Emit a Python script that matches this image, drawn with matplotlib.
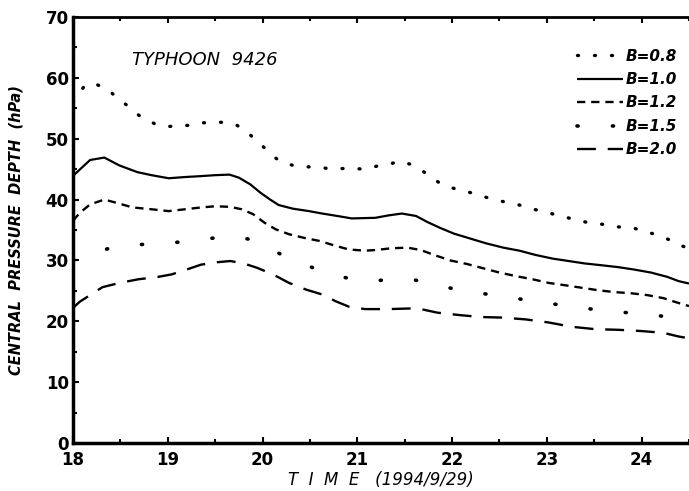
import numpy as np
import matplotlib
matplotlib.use("Agg")
import matplotlib.pyplot as plt
from matplotlib.ticker import MultipleLocator

# values (time in days of 1994/9, depth in hPa)
t_08 = [18.0, 18.06, 18.13, 18.25, 18.37, 18.47, 18.56, 18.65, 18.76, 18.87, 18.99, 19.11, 19.23,
        19.36, 19.48, 19.61, 19.73, 19.83, 19.92, 20.02, 20.11, 20.22, 20.33, 20.45, 20.58, 20.70,
        20.83, 20.95, 21.08, 21.21, 21.33, 21.45, 21.56, 21.67, 21.77, 21.87, 21.98, 22.10, 22.23,
        22.35, 22.47, 22.59, 22.71, 22.83, 22.95, 23.07, 23.20, 23.32, 23.44, 23.56, 23.68, 23.80,
        23.92, 24.04, 24.17, 24.29, 24.40, 24.5]
p_08 = [56.0, 57.3, 58.9, 58.9, 58.1, 56.6, 55.6, 54.3, 53.2, 52.4, 52.0, 52.1, 52.2,
        52.6, 52.7, 52.7, 52.2, 51.2, 49.9, 48.5, 47.1, 46.0, 45.6, 45.4, 45.3, 45.1,
        45.1, 45.1, 45.0, 45.5, 45.8, 46.3, 45.8, 44.9, 43.8, 42.7, 42.0, 41.5, 41.0,
        40.4, 39.9, 39.5, 39.1, 38.5, 38.1, 37.6, 37.1, 36.6, 36.2, 36.0, 35.7, 35.4,
        35.3, 34.7, 34.2, 33.4, 32.5, 32.0]

t_10 = [18.0, 18.18, 18.33, 18.49, 18.68, 18.83, 19.01, 19.18, 19.35, 19.49, 19.65, 19.75, 19.87,
        19.98, 20.08, 20.17, 20.32, 20.49, 20.63, 20.79, 20.94, 21.19, 21.33, 21.47, 21.62, 21.74,
        21.88, 22.02, 22.19, 22.36, 22.54, 22.71, 22.88, 23.06, 23.23, 23.40, 23.58, 23.75, 23.92,
        24.10, 24.27, 24.39, 24.5]
p_10 = [43.9, 46.5, 46.9, 45.6, 44.5, 44.0, 43.5, 43.7, 43.85, 44.0, 44.1, 43.6, 42.5,
        41.1, 40.0, 39.1, 38.5, 38.1, 37.7, 37.3, 36.9, 37.0, 37.4, 37.7, 37.3, 36.3,
        35.3, 34.4, 33.6, 32.8, 32.1, 31.6, 30.9, 30.3, 29.9, 29.5, 29.2, 28.9, 28.5,
        28.0, 27.3, 26.6, 26.2]

t_12 = [18.0, 18.07, 18.18, 18.33, 18.45, 18.63, 18.83, 19.01, 19.18, 19.35, 19.50, 19.66, 19.78,
        19.90, 20.02, 20.14, 20.28, 20.44, 20.60, 20.77, 20.91, 21.08, 21.19, 21.36, 21.53, 21.67,
        21.81, 21.98, 22.16, 22.33, 22.50, 22.68, 22.85, 23.02, 23.20, 23.37, 23.54, 23.71, 23.89,
        24.06, 24.23, 24.39, 24.5]
p_12 = [36.5, 37.8, 39.2, 40.0, 39.5, 38.7, 38.4, 38.1, 38.4, 38.7, 38.9, 38.8, 38.4,
        37.6, 36.2, 35.1, 34.3, 33.7, 33.2, 32.4, 31.8, 31.6, 31.7, 32.0, 32.1, 31.7,
        30.9, 30.0, 29.4, 28.7, 28.0, 27.4, 26.9, 26.3, 25.9, 25.5, 25.1, 24.8, 24.6,
        24.3, 23.8, 23.0, 22.5]

t_15 = [18.0, 18.21, 18.45, 18.70, 18.94, 19.20, 19.44, 19.68, 19.92, 20.14, 20.36, 20.60, 20.83,
        21.07, 21.33, 21.57, 21.81, 22.05, 22.30, 22.54, 22.78, 23.04, 23.28, 23.52, 23.78, 24.03,
        24.29, 24.5]
p_15 = [30.0, 31.2, 32.3, 32.6, 32.8, 33.1, 33.6, 34.0, 33.3, 31.4, 29.8, 28.4, 27.3,
        26.6, 26.8, 26.9, 26.1, 25.2, 24.6, 24.1, 23.5, 22.9, 22.4, 21.9, 21.5, 21.2,
        20.7, 20.3]

t_20 = [18.0, 18.07, 18.19, 18.31, 18.49, 18.69, 18.90, 19.04, 19.18, 19.35, 19.52, 19.66, 19.80,
        19.94, 20.11, 20.28, 20.46, 20.63, 20.77, 20.91, 21.08, 21.19, 21.33, 21.55, 21.67, 21.85,
        22.09, 22.30, 22.54, 22.78, 23.02, 23.26, 23.51, 23.75, 23.99, 24.23, 24.39, 24.5]
p_20 = [22.2, 23.2, 24.4, 25.6, 26.3, 26.9, 27.3, 27.7, 28.4, 29.3, 29.7, 29.9, 29.5,
        28.8, 27.7, 26.3, 25.2, 24.4, 23.3, 22.4, 22.0, 22.0, 22.0, 22.1, 22.0, 21.4,
        21.0, 20.7, 20.6, 20.3, 19.8, 19.1, 18.7, 18.6, 18.4, 18.1, 17.5, 17.2]

# (times, depths, label, dash pattern, line width)
series = [
    (t_08, p_08, "B=0.8", (0, (0.3, 4.8)), 2.4),
    (t_10, p_10, "B=1.0", "-", 1.6),
    (t_12, p_12, "B=1.2", (0, (3.5, 2.5)), 1.7),
    (t_15, p_15, "B=1.5", (0, (0.3, 9.5)), 2.6),
    (t_20, p_20, "B=2.0", (0, (8, 5)), 1.7),
]

plt.rcParams['font.family'] = ['DejaVu Sans']

fig = plt.figure(figsize=(6.89, 4.91), dpi=100)
ax = fig.add_axes([0.106, 0.0978, 0.894, 0.8676])

handles = []
for t, p, lab, ls, lw in series:
    cap = "round" if lab in ("B=0.8", "B=1.5") else "butt"
    ln, = ax.plot(t, p, color="black", lw=lw, linestyle=ls, dash_capstyle=cap,
                  solid_capstyle="butt", label=lab)
    handles.append(ln)

ax.set_xlim(18, 24.5)
ax.set_ylim(0, 70)
ax.xaxis.set_major_locator(MultipleLocator(1))
ax.xaxis.set_minor_locator(MultipleLocator(0.5))
ax.yaxis.set_major_locator(MultipleLocator(10))
ax.yaxis.set_minor_locator(MultipleLocator(5))
ax.tick_params(which="both", direction="in", top=True, right=False, width=1.5,
               length=4, labelsize=12, pad=4)
ax.tick_params(which="minor", length=3)
ax.tick_params(axis="x", pad=6)
ax.tick_params(axis="y", pad=3)
for lbl in ax.get_xticklabels() + ax.get_yticklabels():
    lbl.set_fontweight("bold")

ax.spines["right"].set_visible(False)
ax.spines["left"].set_linewidth(2.5)
ax.spines["bottom"].set_linewidth(2.5)
ax.spines["top"].set_linewidth(2.0)

ax.set_ylabel("CENTRAL  PRESSURE  DEPTH  (hPa)", fontsize=10.5, fontweight="bold",
              style="italic", labelpad=16)
ax.set_xlabel("T  I  M  E   (1994/9/29)", fontsize=12, style="italic", labelpad=1)

ax.text(0.095, 0.90, "TYPHOON  9426", transform=ax.transAxes, fontsize=13,
        style="italic", ha="left", va="center")

leg = ax.legend(handles=handles, loc="upper right", bbox_to_anchor=(0.99, 0.94),
                frameon=False, fontsize=11, handlelength=3.0, handletextpad=0.15,
                labelspacing=0.55, borderaxespad=0)
for txt in leg.get_texts():
    txt.set_fontstyle("italic")
    txt.set_fontweight("bold")

fig.savefig("out.png", dpi=100)
